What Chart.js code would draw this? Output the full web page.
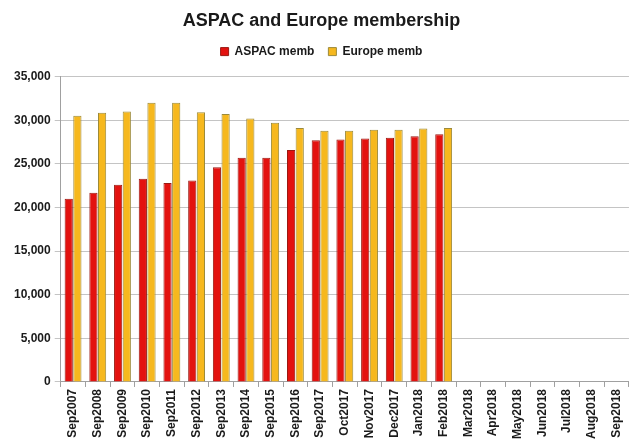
<!DOCTYPE html>
<html lang="en">
<head>
    <meta charset="UTF-8">
    <title>ASPAC and Europe membership</title>
    <script src="https://cdn.jsdelivr.net/npm/chart.js"></script>
    <style>
        body { margin: 0; background: #fff; }
        .wrap { width: 633px; height: 445px; position: relative; }
    </style>
</head>
<body>
<div class="wrap"><canvas id="chart"></canvas></div>
<script>
    const months = ['Sep2007', 'Sep2008', 'Sep2009', 'Sep2010', 'Sep2011', 'Sep2012', 'Sep2013', 'Sep2014',
        'Sep2015', 'Sep2016', 'Sep2017', 'Oct2017', 'Nov2017', 'Dec2017', 'Jan2018', 'Feb2018',
        'Mar2018', 'Apr2018', 'May2018', 'Jun2018', 'Jul2018', 'Aug2018', 'Sep2018'];
    const aspacMemb = [21000, 21700, 22600, 23300, 22800, 23100, 24600, 25700, 25700, 26600,
        27700, 27800, 27900, 28000, 28150, 28400, null, null, null, null, null, null, null];
    const europeMemb = [30500, 30850, 31000, 32000, 32000, 30900, 30700, 30200, 29700, 29100,
        28800, 28800, 28900, 28900, 29050, 29100, null, null, null, null, null, null, null];
    const yTicks = [0, 5000, 10000, 15000, 20000, 25000, 30000, 35000];

    const FONT = "'Liberation Sans Narrow', 'Liberation Sans', Arial, sans-serif";

    new Chart(document.getElementById('chart'), {
        type: 'bar',
        data: {
            labels: months,
            datasets: [{
                label: 'ASPAC memb',
                data: aspacMemb,
                backgroundColor: '#e3120f',
                borderColor: '#9a1a12',
                borderWidth: 1
            }, {
                label: 'Europe memb',
                data: europeMemb,
                backgroundColor: '#f6b81e',
                borderColor: '#9c8a3a',
                borderWidth: 1
            }]
        },
        options: {
            responsive: true,
            maintainAspectRatio: false,
            animation: false,
            layout: { padding: { left: 10, right: 0, top: 2, bottom: 4 } },
            datasets: { bar: { categoryPercentage: 0.7, barPercentage: 0.95 } },
            scales: {
                x: {
                    grid: { display: true, drawOnChartArea: false, offset: true, tickLength: 5, color: '#a0a0a0' },
                    border: { color: '#a0a0a0' },
                    ticks: {
                        minRotation: 90, maxRotation: 90, autoSkip: false,
                        color: '#1a1a1a', padding: 2,
                        font: { family: FONT, size: 12, weight: 'bold' }
                    }
                },
                y: {
                    min: 0, max: 35000,
                    afterBuildTicks: axis => { axis.ticks = yTicks.map(v => ({ value: v })); },
                    grid: { color: '#c4c4c4', tickLength: 6 },
                    border: { color: '#a0a0a0' },
                    ticks: {
                        color: '#1a1a1a', padding: 4,
                        font: { family: FONT, size: 12, weight: 'bold' },
                        callback: v => v.toLocaleString('en-US')
                    }
                }
            },
            plugins: {
                title: {
                    display: true,
                    text: 'ASPAC and Europe membership',
                    color: '#1a1a1a',
                    font: { family: FONT, size: 18, weight: 'bold' },
                    padding: { top: 8, bottom: 0 }
                },
                legend: {
                    labels: {
                        boxWidth: 8, boxHeight: 8, padding: 14,
                        color: '#1a1a1a',
                        font: { family: FONT, size: 12, weight: 'bold' }
                    }
                },
                tooltip: { enabled: false }
            }
        },
        plugins: [{
            id: 'legendGap',
            beforeInit(chart) {
                const fit = chart.legend.fit;
                chart.legend.fit = function () {
                    fit.bind(chart.legend)();
                    this.height += 9;
                };
            }
        }]
    });
</script>
</body>
</html>
